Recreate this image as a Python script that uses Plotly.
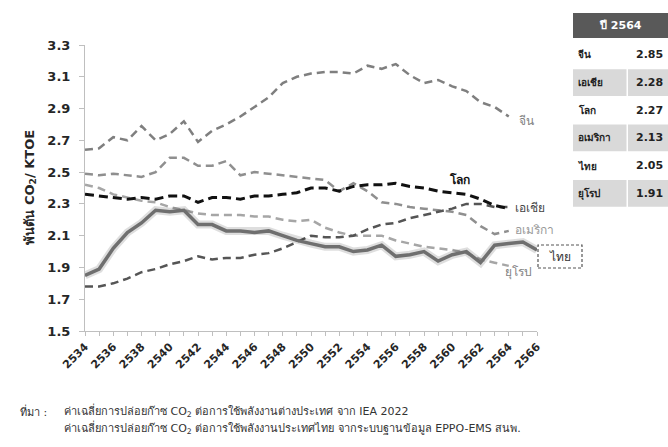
import plotly.graph_objects as go

# ---------------- data ----------------
years = list(range(2534, 2567))
tick_labels = [str(y) if (y - 2534) % 2 == 0 else "" for y in years]

china = [2.64, 2.65, 2.72, 2.70, 2.79, 2.70, 2.74, 2.82, 2.69, 2.76, 2.80, 2.85, 2.91, 2.97, 3.06, 3.10,
         3.12, 3.13, 3.13, 3.12, 3.17, 3.15, 3.18, 3.11, 3.06, 3.08, 3.04, 3.01, 2.94, 2.91, 2.85]
america = [2.49, 2.48, 2.49, 2.48, 2.47, 2.50, 2.59, 2.59, 2.54, 2.54, 2.57, 2.48, 2.50, 2.49, 2.48, 2.47,
           2.46, 2.45, 2.38, 2.43, 2.38, 2.31, 2.30, 2.28, 2.27, 2.26, 2.25, 2.23, 2.16, 2.11, 2.13]
world = [2.36, 2.35, 2.34, 2.33, 2.34, 2.33, 2.35, 2.35, 2.31, 2.34, 2.34, 2.33, 2.35, 2.35, 2.36, 2.37,
         2.40, 2.40, 2.38, 2.41, 2.42, 2.42, 2.43, 2.41, 2.40, 2.38, 2.37, 2.36, 2.33, 2.29, 2.27]
asia = [1.78, 1.78, 1.80, 1.83, 1.87, 1.89, 1.92, 1.94, 1.97, 1.95, 1.96, 1.96, 1.98, 1.99, 2.02, 2.06,
        2.10, 2.09, 2.09, 2.10, 2.14, 2.17, 2.18, 2.21, 2.23, 2.25, 2.27, 2.30, 2.30, 2.28, 2.28]
europe = [2.42, 2.40, 2.36, 2.34, 2.32, 2.31, 2.28, 2.26, 2.24, 2.23, 2.23, 2.23, 2.22, 2.22, 2.20, 2.19,
          2.20, 2.15, 2.12, 2.10, 2.10, 2.10, 2.07, 2.05, 2.03, 2.02, 2.01, 1.99, 1.95, 1.93, 1.91]
thai = [1.85, 1.89, 2.02, 2.12, 2.18, 2.26, 2.25, 2.26, 2.17, 2.17, 2.13, 2.13, 2.12, 2.13, 2.10, 2.07,
        2.05, 2.03, 2.03, 2.00, 2.01, 2.04, 1.97, 1.98, 2.00, 1.94, 1.98, 2.00, 1.93, 2.04, 2.05, 2.06, 2.01]

table_year = "ปี 2564"
table_labels = ["จีน", "เอเชีย", "โลก", "อเมริกา", "ไทย", "ยุโรป"]
table_values = [2.85, 2.28, 2.27, 2.13, 2.05, 1.91]

# ---------------- layout geometry (pixels, page coordinates) ----------------
W, H = 668, 447
PL, PR, PT, PB = 85, 537, 45, 331   # plot area in page pixels
PW, PH = PR - PL, PB - PT


def px(x):
    return (x - PL) / PW


def py(y):
    return (PB - y) / PH


FONT = "Tahoma, 'DejaVu Sans', 'Noto Sans', sans-serif"

fig = go.Figure()


def add_line(yvals, color, width, dash):
    fig.add_trace(go.Scatter(x=years[:len(yvals)], y=yvals, mode="lines",
                             line=dict(color=color, width=width, dash=dash),
                             hoverinfo="skip", showlegend=False))


add_line(europe, "#a6a6a6", 2.5, "8px,5px")
add_line(america, "#8f8f8f", 2.5, "8px,5px")
add_line(china, "#7f7f7f", 2.5, "8px,5px")
add_line(asia, "#555555", 2.5, "8px,5px")
add_line(world, "#111111", 3, "9px,5px")
# Thai line with soft shadow
add_line(thai, "rgba(0,0,0,0.13)", 8, "solid")
add_line(thai, "#6f6f6f", 3.5, "solid")

fig.update_layout(
    width=W, height=H,
    margin=dict(l=PL, r=W - PR, t=PT, b=H - PB, pad=0),
    paper_bgcolor="white", plot_bgcolor="white",
    font=dict(family=FONT, color="#262626"),
    showlegend=False,
    xaxis=dict(range=[2534, 2566], tickmode="array", tickvals=years, ticktext=tick_labels,
               tickangle=-45, showline=True, linecolor="#bfbfbf", linewidth=1,
               ticks="outside", ticklen=4, tickcolor="#bfbfbf", showgrid=False, zeroline=False,
               tickfont=dict(size=11, family="'DejaVu Sans', sans-serif", weight="bold", color="#262626")),
    yaxis=dict(range=[1.5, 3.3], tick0=1.5, dtick=0.2, tickformat=".1f",
               showline=True, linecolor="#bfbfbf", linewidth=1,
               ticks="outside", ticklen=5, tickcolor="#bfbfbf", showgrid=False, zeroline=False,
               ticklabelstandoff=6,
               tickfont=dict(size=13, family="'DejaVu Sans', sans-serif", weight="bold", color="#262626")),
)

ann = []
shapes = []


def label(text, x, y, size, color, xanchor="center"):
    ann.append(dict(text=text, x=px(x), y=py(y), xanchor=xanchor, yanchor="middle",
                    xref="paper", yref="paper", showarrow=False, font=dict(size=size, color=color)))


# y-axis title
ann.append(dict(text="<b>พันตัน CO<sub>2</sub>/ KTOE</b>", x=px(19), y=py(187), xref="paper", yref="paper",
                textangle=-90, showarrow=False, font=dict(size=13, color="#262626")))

# series labels
label("จีน", 517, 121, 12, "#7f7f7f", "left")
label("<b>โลก</b>", 459, 180, 12, "#111111")
label("เอเชีย", 513, 208, 12, "#444444", "left")
label("อเมริกา", 513, 230, 12, "#999999", "left")
label("ยุโรป", 503, 272, 12, "#7f7f7f", "left")
label("ไทย", 560, 257, 12, "#333333")
shapes.append(dict(type="rect", xref="paper", yref="paper", x0=px(538), x1=px(582), y0=py(268), y1=py(245),
                   line=dict(color="#555555", width=1.2, dash="3px,2px"), fillcolor="rgba(0,0,0,0)"))

# table
shapes.append(dict(type="rect", xref="paper", yref="paper", x0=px(573), x1=px(668), y0=py(38), y1=py(13),
                   line=dict(width=0), fillcolor="#595959"))
label("<b>" + table_year + "</b>", 620, 25.5, 11, "white")
row_top, row_h = 41, 27.7
for k, (lab, val) in enumerate(zip(table_labels, table_values)):
    y0 = row_top + k * row_h
    yc = y0 + row_h / 2
    if k % 2 == 1:
        shapes.append(dict(type="rect", xref="paper", yref="paper", x0=px(573), x1=px(626.5),
                           y0=py(y0 + row_h - 0.5), y1=py(y0 + 0.5), line=dict(width=0), fillcolor="#d9d9d9"))
        shapes.append(dict(type="rect", xref="paper", yref="paper", x0=px(628), x1=px(668),
                           y0=py(y0 + row_h - 0.5), y1=py(y0 + 0.5), line=dict(width=0), fillcolor="#d9d9d9"))
    label("<b>" + lab + "</b>", 576, yc, 10, "#222222", "left")
    label("<b>%.2f</b>" % val, 665, yc, 11, "#222222", "right")

# footnote
label("ที่มา :", 18, 411, 11, "#333333", "left")
label("ค่าเฉลี่ยการปล่อยก๊าซ CO<sub>2</sub> ต่อการใช้พลังงานต่างประเทศ จาก IEA 2022", 62, 411, 11, "#333333", "left")
label("ค่าเฉลี่ยการปล่อยก๊าซ CO<sub>2</sub> ต่อการใช้พลังงานประเทศไทย จากระบบฐานข้อมูล EPPO-EMS สนพ.",
      62, 428, 11, "#333333", "left")

fig.update_layout(annotations=ann, shapes=shapes)
fig.write_html("out.html", config={"displayModeBar": False},
               post_script="document.body.style.margin='0';document.body.style.overflow='hidden';")
